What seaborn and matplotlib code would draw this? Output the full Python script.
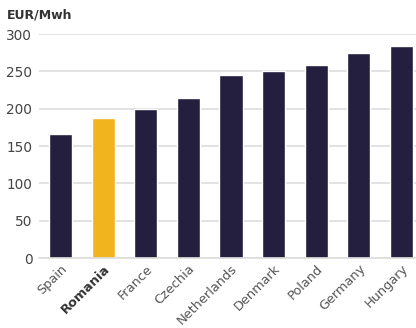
import matplotlib
matplotlib.use("Agg")
import matplotlib.pyplot as plt
import seaborn as sns
import pandas as pd

countries = ["Spain", "Romania", "France", "Czechia", "Netherlands", "Denmark", "Poland", "Germany", "Hungary"]
prices = [166, 187, 199, 214, 245, 250, 258, 275, 284]
highlight = "Romania"
yticks = [0, 50, 100, 150, 200, 250, 300]

sns.set_style("white")
plt.rcParams["font.family"] = ["DejaVu Sans"]

df = pd.DataFrame({"country": countries, "price": prices})
palette = {c: ("#f2b41e" if c == highlight else "#241f3f") for c in countries}

fig = plt.figure(figsize=(4.16, 3.28), dpi=100)
ax = fig.add_axes([39.2 / 416, 70 / 328, (422.8 - 39.2) / 416, 224 / 328])
sns.barplot(data=df, x="country", y="price", hue="country", palette=palette,
            order=countries, width=0.54, legend=False, ax=ax, saturation=1)

ax.set_ylim(0, 300)
ax.set_xlim(-0.5, 8.5)
ax.set_yticks(yticks)
ax.yaxis.grid(True, color="#dddddd", linewidth=1.2)
ax.set_axisbelow(True)
for s in ["top", "right", "left"]:
    ax.spines[s].set_visible(False)
ax.spines["bottom"].set_color("#dddddd")
ax.spines["bottom"].set_linewidth(1.2)
ax.set_xlabel("")
ax.set_ylabel("")
ax.tick_params(axis="y", length=0, pad=5, labelsize=9.8, labelcolor="#444444")
ax.tick_params(axis="x", length=0, pad=3, labelsize=9.3, labelcolor="#555555")
ax.set_xticks(range(len(countries)))
ax.set_xticklabels(countries, rotation=45, ha="right", rotation_mode="anchor")
for lbl in ax.get_xticklabels():
    if lbl.get_text() == highlight:
        lbl.set_fontweight("bold")
        lbl.set_color("#333333")

fig.text(7 / 416, 1 - 15 / 328, "EUR/Mwh", fontsize=9, fontweight="bold",
         color="#333333", va="center", ha="left")

fig.savefig("out.png", dpi=100)
